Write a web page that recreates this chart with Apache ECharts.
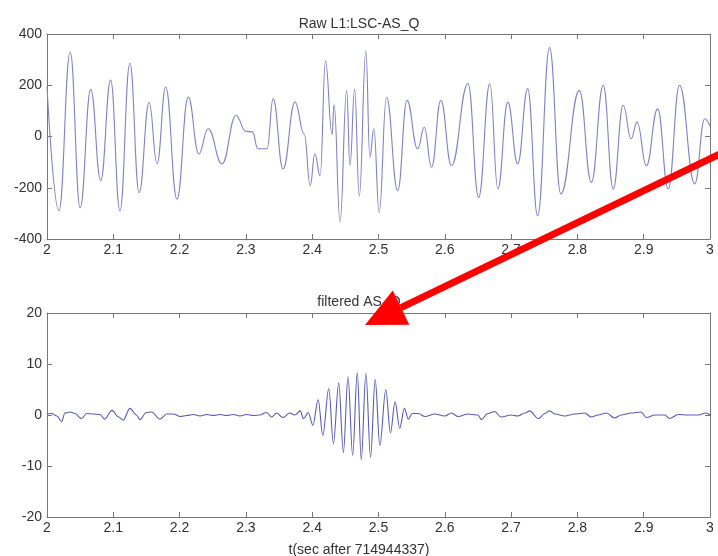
<!DOCTYPE html>
<html>
<head>
<meta charset="utf-8">
<script src="https://cdn.jsdelivr.net/npm/echarts@6/dist/echarts.min.js"></script>
<style>
  html, body { margin: 0; padding: 0; background: #fff; }
  #chart { width: 718px; height: 556px; }
</style>
</head>
<body>
<div id="chart"></div>
<script>
// Raw L1:LSC-AS_Q, turning points of the trace (time in s, counts)
const rawT = [2.000, 2.018, 2.035, 2.050, 2.066, 2.081, 2.096, 2.110, 2.125, 2.139,
  2.154, 2.166, 2.179, 2.196, 2.213, 2.229, 2.243, 2.264, 2.285, 2.300,
  2.310, 2.318, 2.332, 2.341, 2.356, 2.374, 2.388, 2.397, 2.404, 2.412,
  2.420, 2.430, 2.433, 2.442, 2.452, 2.457, 2.464, 2.471, 2.481, 2.487,
  2.493, 2.501, 2.512, 2.529, 2.543, 2.559, 2.569, 2.580, 2.594, 2.610,
  2.635, 2.651, 2.668, 2.680, 2.695, 2.710, 2.725, 2.740, 2.758, 2.775,
  2.803, 2.821, 2.839, 2.854, 2.869, 2.881, 2.890, 2.904, 2.921, 2.937,
  2.954, 2.977, 2.992, 3.000];
const rawV = [195, -290, 330, -278, 184, -172, 220, -290, 286, -219,
  133, -106, 193, -244, 154, -68, 30, -107, 82, 20,
  18, -48, -48, 148, -127, 134, 10, -192, -68, -153,
  295, 8, 125, -333, 180, -113, 185, -233, 333, -81,
  31, -297, 154, -212, 141, -48, 36, -120, 141, -114,
  207, -238, 207, -205, 134, -107, 187, -310, 347, -224,
  180, -179, 200, -205, 122, -9, 56, -114, 108, -205,
  200, -185, 69, 40];

// filtered AS_Q (time in s, filtered amplitude)
const filtT = [2.000, 2.007, 2.015, 2.022, 2.027, 2.035, 2.042, 2.052, 2.060, 2.070,
  2.080, 2.087, 2.098, 2.108, 2.115, 2.125, 2.135, 2.140, 2.150, 2.158,
  2.170, 2.181, 2.191, 2.201, 2.211, 2.221, 2.231, 2.241, 2.251, 2.261,
  2.271, 2.281, 2.291, 2.301, 2.311, 2.321, 2.331, 2.339, 2.346, 2.356,
  2.366, 2.374, 2.382, 2.387,
  2.394, 2.401, 2.409, 2.416, 2.425, 2.432, 2.440, 2.447, 2.454, 2.461,
  2.468, 2.474, 2.481, 2.488, 2.495, 2.502, 2.511, 2.518, 2.525, 2.532,
  2.539, 2.545, 2.551,
  2.560, 2.570, 2.585, 2.600, 2.610, 2.620, 2.635, 2.650, 2.655, 2.665,
  2.675, 2.685, 2.700, 2.710, 2.721, 2.728, 2.741, 2.751, 2.758, 2.766,
  2.781, 2.796, 2.811, 2.821, 2.831, 2.844, 2.856, 2.866, 2.881, 2.896,
  2.904, 2.917, 2.932, 2.939, 2.952, 2.967, 2.982, 2.994, 3.000];
const filtV = [0.2, 0.3, -0.2, -1.3, 0.4, 0.6, 0.3, -0.7, 0.3, 0.2,
  0.1, -0.8, 0.9, -0.4, -1.0, 1.3, 0.0, -0.9, 0.5, 0.6,
  -0.8, 0.2, 0.2, -0.3, -0.1, 0.1, -0.2, 0.1, -0.1, 0.1,
  -0.1, 0.1, -0.2, 0.1, -0.1, 0.0, 0.5, -0.4, 0.4, -0.5,
  0.4, 0.0, 0.8, -0.7,
  0.5, -2.0, 3.0, -4.0, 5.2, -5.6, 6.3, -7.4, 7.5, -7.9,
  8.3, -8.8, 8.2, -8.3, 7.0, -6.0, 5.0, -3.5, 2.6, -2.6,
  1.3, -0.8, 0.3,
  0.3, -0.3, 0.2, -0.2, 0.4, -0.3, 0.2, 0.0, -0.9, 0.3,
  0.7, -0.4, 0.0, -0.2, 0.4, 0.8, -0.7, 0.3, 0.8, 0.2,
  -0.2, 0.2, 0.4, -0.4, 0.0, 0.4, -0.6, 0.0, 0.4, 0.6,
  -0.5, 0.0, 0.0, -0.7, 0.1, 0.0, 0.0, 0.4, 0.0];

const titles = ['Raw L1:LSC-AS_Q', 'filtered AS_Q'];
const xName = 't(sec after 714944337)';

const pairs = (t, v) => t.map((x, i) => [x, v[i]]);
const fmtX = v => String(Math.round(v * 10) / 10);

const chart = echarts.init(document.getElementById('chart'), null, { renderer: 'canvas' });

const FONT = 'Liberation Sans, Arial, sans-serif';
const labelStyle = { color: '#333', fontFamily: FONT, fontSize: 14 };
const titleStyle = { fontSize: 14, fontWeight: 'normal', color: '#333', fontFamily: FONT };
const lineStyle = { color: '#777', width: 1 };

function xAxes(gridIndex) {
  return [
    {
      type: 'value', gridIndex, min: 2, max: 3, interval: 0.1, position: 'bottom',
      axisLine: { show: true, onZero: false, lineStyle },
      axisTick: { show: true, inside: true, length: 5, lineStyle },
      axisLabel: Object.assign({ formatter: fmtX, margin: 4 }, labelStyle),
      splitLine: { show: false }
    },
    {
      type: 'value', gridIndex, min: 2, max: 3, interval: 0.1, position: 'top',
      axisLine: { show: true, onZero: false, lineStyle },
      axisTick: { show: true, inside: true, length: 5, lineStyle },
      axisLabel: { show: false },
      splitLine: { show: false }
    }
  ];
}

function yAxes(gridIndex, lim, step) {
  return [
    {
      type: 'value', gridIndex, min: -lim, max: lim, interval: step, position: 'left',
      axisLine: { show: true, onZero: false, lineStyle },
      axisTick: { show: true, inside: true, length: 5, lineStyle },
      axisLabel: Object.assign({ margin: 5 }, labelStyle),
      splitLine: { show: false }
    },
    {
      type: 'value', gridIndex, min: -lim, max: lim, interval: step, position: 'right',
      axisLine: { show: true, onZero: false, lineStyle },
      axisTick: { show: true, inside: true, length: 5, lineStyle },
      axisLabel: { show: false },
      splitLine: { show: false }
    }
  ];
}

// Annotation arrow pointing at the filtered burst
const tip = [365, 325], tail = [724, 152];
const dx = tail[0] - tip[0], dy = tail[1] - tip[1];
const len = Math.hypot(dx, dy);
const ux = dx / len, uy = dy / len;
const headLen = 40, headHalf = 19;
const base = [tip[0] + ux * headLen, tip[1] + uy * headLen];
const px = -uy, py = ux;

chart.setOption({
  backgroundColor: '#ffffff',
  animation: false,
  title: [
    { text: titles[0], left: 'center', top: 12, textStyle: titleStyle },
    { text: titles[1], left: 'center', top: 290, textStyle: titleStyle },
    { text: xName, left: 'center', top: 538, textStyle: titleStyle }
  ],
  grid: [
    { left: 47, right: 8, top: 34, height: 205, containLabel: false },
    { left: 47, right: 8, top: 313, height: 204, containLabel: false }
  ],
  xAxis: [...xAxes(0), ...xAxes(1)],
  yAxis: [...yAxes(0, 400, 200), ...yAxes(1, 20, 10)],
  series: [
    {
      type: 'line', xAxisIndex: 0, yAxisIndex: 0,
      data: pairs(rawT, rawV), showSymbol: false, smooth: 0.45, smoothMonotone: 'x',
      lineStyle: { color: '#8080cc', width: 1.1 }
    },
    {
      type: 'line', xAxisIndex: 2, yAxisIndex: 2,
      data: pairs(filtT, filtV), showSymbol: false, smooth: 0.35, smoothMonotone: 'x',
      lineStyle: { color: '#5a5abb', width: 1.1 }
    }
  ],
  graphic: [
    {
      type: 'line', z: 100,
      shape: { x1: tail[0], y1: tail[1], x2: base[0], y2: base[1] },
      style: { stroke: '#ff0000', lineWidth: 7 }
    },
    {
      type: 'polygon', z: 100,
      shape: { points: [tip, [base[0] + px * headHalf, base[1] + py * headHalf], [base[0] - px * headHalf, base[1] - py * headHalf]] },
      style: { fill: '#ff0000' }
    }
  ]
});
</script>
</body>
</html>
